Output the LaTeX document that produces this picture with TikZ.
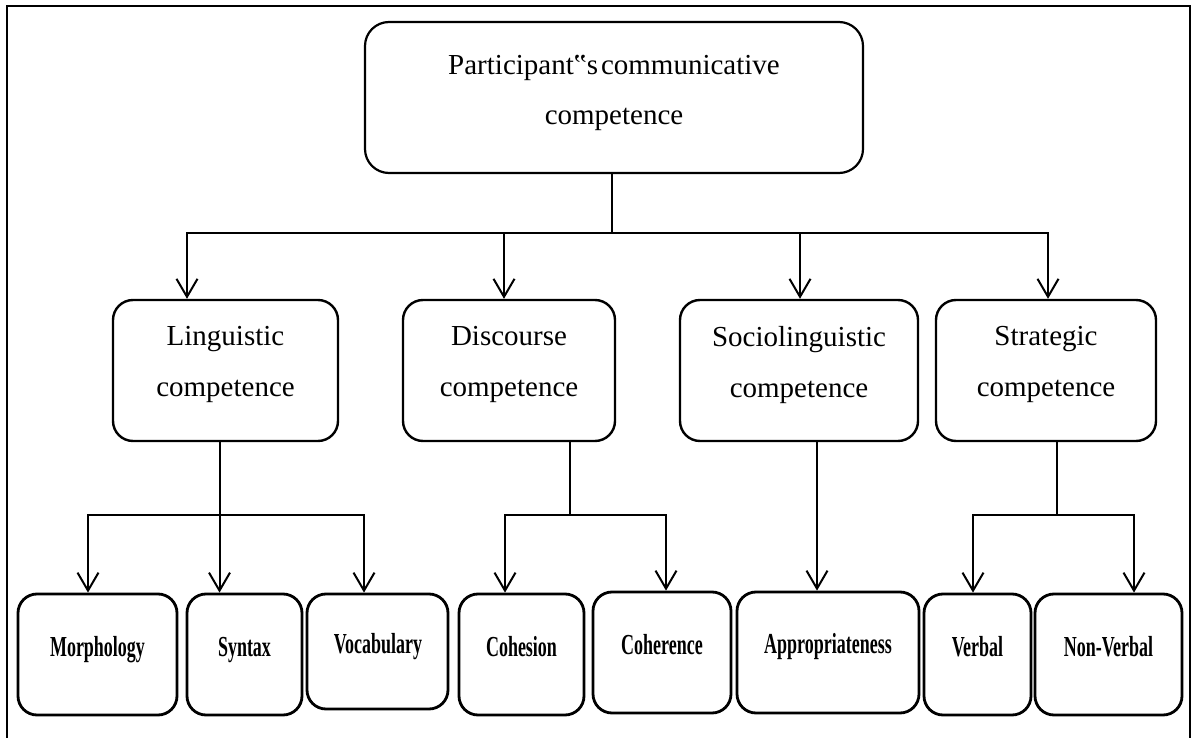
\documentclass[tikz,border=0pt]{standalone}
\usepackage{fontspec}
\setmainfont{Liberation Serif}
\newfontfamily\condfont{Liberation Serif}[FakeStretch=0.62]
\usetikzlibrary{arrows.meta}
\begin{document}
\begin{tikzpicture}[x=1pt,y=-1pt,
  boxA/.style={draw, line width=2.2pt, rounded corners=24pt, inner sep=0pt},
  boxB/.style={draw, line width=2.4pt, rounded corners=20pt, inner sep=0pt, minimum height=141pt},
  boxC/.style={draw, line width=2.8pt, rounded corners=19pt, inner sep=0pt},
  bigtext/.style={font=\fontsize{29}{50}\selectfont, align=center, inner sep=0pt, anchor=north},
  midtext/.style={font=\fontsize{29}{51}\selectfont, align=center, inner sep=0pt, anchor=north},
  smalltext/.style={font=\condfont\bfseries\fontsize{29}{32}\selectfont, inner sep=0pt, anchor=base},
  conn/.style={line width=2pt, line cap=rect},
  arr/.style={line width=2pt, -{Straight Barb[length=18pt,width=21pt]}},
]
\useasboundingbox (0,0) rectangle (1194,738);
% outer frame (open at the bottom)
\draw[line width=2.6pt] (7,738) -- (7,6) -- (1190,6) -- (1190,738);

% top box
\node[boxA, minimum width=498pt, minimum height=151pt] (top) at (614,97.5) {};
\node[bigtext] (topT) at (614,55) {Participant‟s\hspace{3pt}communicative\\competence};

% level 2
\node[boxB, minimum width=225pt] (ling) at (225.5,370.5) {};
\node[midtext] (lingT) at (225.5,326.5) {Linguistic\\competence};
\node[boxB, minimum width=212pt] (disc) at (509,370.5) {};
\node[midtext] (discT) at (509,326.5) {Discourse\\competence};
\node[boxB, minimum width=238pt] (socio) at (799,370.5) {};
\node[midtext] (socioT) at (799,326.5) {Sociolinguistic\\competence};
\node[boxB, minimum width=220pt] (strat) at (1046,370.5) {};
\node[midtext] (stratT) at (1046,326.5) {Strategic\\competence};

% level 3
\node[boxC, minimum width=159pt, minimum height=121pt] (morph) at (97.5,654.5) {};
\node[smalltext] (morphT) at (97.5,656) {Morphology};
\node[boxC, minimum width=115pt, minimum height=121pt] (syntax) at (244.5,654.5) {};
\node[smalltext] (syntaxT) at (244.5,656) {Syntax};
\node[boxC, minimum width=141pt, minimum height=115pt] (vocab) at (377.5,651.5) {};
\node[smalltext] (vocabT) at (378,653) {Vocabulary};
\node[boxC, minimum width=125pt, minimum height=121pt] (cohes) at (521.5,654.5) {};
\node[smalltext] (cohesT) at (521.5,656) {Cohesion};
\node[boxC, minimum width=138pt, minimum height=121pt] (coher) at (662,652.5) {};
\node[smalltext] (coherT) at (662,654) {Coherence};
\node[boxC, minimum width=182pt, minimum height=121pt] (approp) at (828,652.5) {};
\node[smalltext] (appropT) at (828,653) {Appropriateness};
\node[boxC, minimum width=107pt, minimum height=121pt] (verbal) at (977.5,654.5) {};
\node[smalltext] (verbalT) at (977.5,656.5) {Verbal};
\node[boxC, minimum width=147pt, minimum height=121pt] (nonverb) at (1108.5,654.5) {};
\node[smalltext] (nonverbT) at (1108.5,656.5) {Non-Verbal};

% top -> level 2
\coordinate (j0) at (612,233);
\coordinate (jL) at (187,233);
\coordinate (jD) at (504,233);
\coordinate (jS) at (800,233);
\coordinate (jR) at (1048,233);
\draw[conn] (j0 |- top.south) -- (j0);
\draw[conn] (jL) -- (jR);
\draw[arr] (jL) -- (jL |- ling.north);
\draw[arr] (jD) -- (jD |- disc.north);
\draw[arr] (jS) -- (jS |- socio.north);
\draw[arr] (jR) -- (jR |- strat.north);

% linguistic -> level 3
\coordinate (k1) at (219.5,515);
\coordinate (k1L) at (88,515);
\coordinate (k1R) at (364,515);
\draw[conn] (k1 |- ling.south) -- (k1);
\draw[conn] (k1L) -- (k1R);
\draw[arr] (k1L) -- (k1L |- morph.north);
\draw[arr] (k1) -- (k1 |- syntax.north);
\draw[arr] (k1R) -- (k1R |- vocab.north);

% discourse -> level 3
\coordinate (k2) at (570,515);
\coordinate (k2L) at (505,515);
\coordinate (k2R) at (666,515);
\draw[conn] (k2 |- disc.south) -- (k2);
\draw[conn] (k2L) -- (k2R);
\draw[arr] (k2L) -- (k2L |- cohes.north);
\draw[arr] (k2R) -- (k2R |- coher.north);

% sociolinguistic -> appropriateness
\coordinate (k3) at (817,515);
\draw[arr] (k3 |- socio.south) -- (k3 |- approp.north);

% strategic -> level 3
\coordinate (k4) at (1057,515);
\coordinate (k4L) at (973,515);
\coordinate (k4R) at (1134,515);
\draw[conn] (k4 |- strat.south) -- (k4);
\draw[conn] (k4L) -- (k4R);
\draw[arr] (k4L) -- (k4L |- verbal.north);
\draw[arr] (k4R) -- (k4R |- nonverb.north);
\end{tikzpicture}
\end{document}
